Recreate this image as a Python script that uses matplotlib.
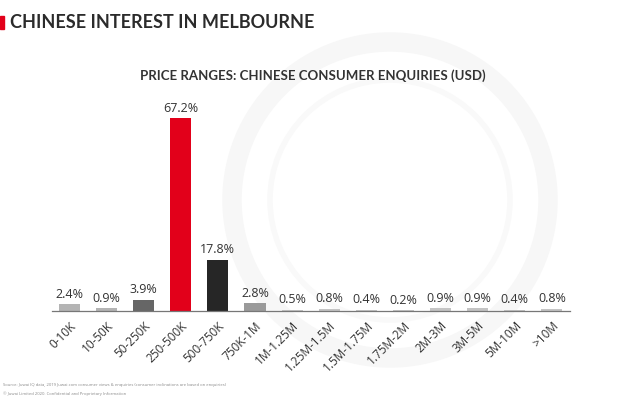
import matplotlib.pyplot as plt
from matplotlib.patches import Circle, Rectangle

# данные с картинки
categories = ['0-10K', '10-50K', '50-250K', '250-500K', '500-750K', '750K-1M', '1M-1.25M',
              '1.25M-1.5M', '1.5M-1.75M', '1.75M-2M', '2M-3M', '3M-5M', '5M-10M', '>10M']
values = [2.4, 0.9, 3.9, 67.2, 17.8, 2.8, 0.5, 0.8, 0.4, 0.2, 0.9, 0.9, 0.4, 0.8]
bar_colors = ['#b4b4b4', '#b4b4b4', '#666666', '#e2001a', '#262626', '#9a9a9a', '#c4c4c4',
              '#c4c4c4', '#c4c4c4', '#c4c4c4', '#c4c4c4', '#c4c4c4', '#c4c4c4', '#c4c4c4']

plt.rcParams['font.family'] = ['Open Sans', 'DejaVu Sans']

fig = plt.figure(figsize=(6.2, 4.0), dpi=100)
fig.patch.set_facecolor('white')

# бледный водяной знак (в пикселях, отдельная ось на фоне)
bg = fig.add_axes([0, 0, 1, 1], zorder=-1)
bg.set_xlim(0, 620)
bg.set_ylim(400, 0)
bg.axis('off')
bg.add_patch(Circle((390, 200), 158, fill=False, lw=14, ec='#f7f7f7'))
bg.add_patch(Circle((390, 200), 120, fill=False, lw=4, ec='#f9f9f9'))

ax = fig.add_axes([52 / 620, 89 / 400, 518 / 620, 211 / 400])
ax.patch.set_alpha(0)
x = range(len(categories))
ax.bar(x, values, width=0.57, color=bar_colors, zorder=2)
for i, v in enumerate(values):
    ax.text(i, v + 1.2, f'{v}%', ha='center', va='bottom', fontsize=9, color='#333333')

ax.set_xlim(-0.47, len(categories) - 0.51)
ax.set_ylim(0, 73.5)
ax.set_yticks([])
ax.set_xticks(list(x))
ax.set_xticklabels(categories, rotation=45, ha='right', rotation_mode='anchor',
                   fontsize=8.5, color='#333333')
ax.tick_params(axis='x', length=0, pad=6)
for s in ['top', 'right', 'left']:
    ax.spines[s].set_visible(False)
ax.spines['bottom'].set_color('#777777')
ax.spines['bottom'].set_linewidth(0.9)

# заголовки
fig.patches.append(Rectangle((0, 1 - 29 / 400), 4 / 620, 13 / 400, transform=fig.transFigure,
                             color='#e2001a'))
fig.text(10 / 620, 1 - 22 / 400, 'CHINESE INTEREST IN MELBOURNE', fontsize=13,
         fontweight='bold', color='#2b2b2b', va='center', family=['Lato', 'DejaVu Sans'])
fig.text(313 / 620, 1 - 76 / 400, 'PRICE RANGES: CHINESE CONSUMER ENQUIRIES (USD)', fontsize=9.5,
         fontweight='bold', color='#333333', ha='center', va='center', family=['Lato', 'DejaVu Sans'])

fig.text(3 / 620, 1 - 385 / 400,
         'Source: Juwai IQ data, 2019 Juwai.com consumer views & enquiries (consumer inclinations are based on enquiries)',
         fontsize=3, color='#888888', va='center')
fig.text(3 / 620, 1 - 394 / 400, '\u00a9 Juwai Limited 2020. Confidential and Proprietary Information',
         fontsize=3, color='#888888', va='center')

fig.savefig('out.png', dpi=100)
